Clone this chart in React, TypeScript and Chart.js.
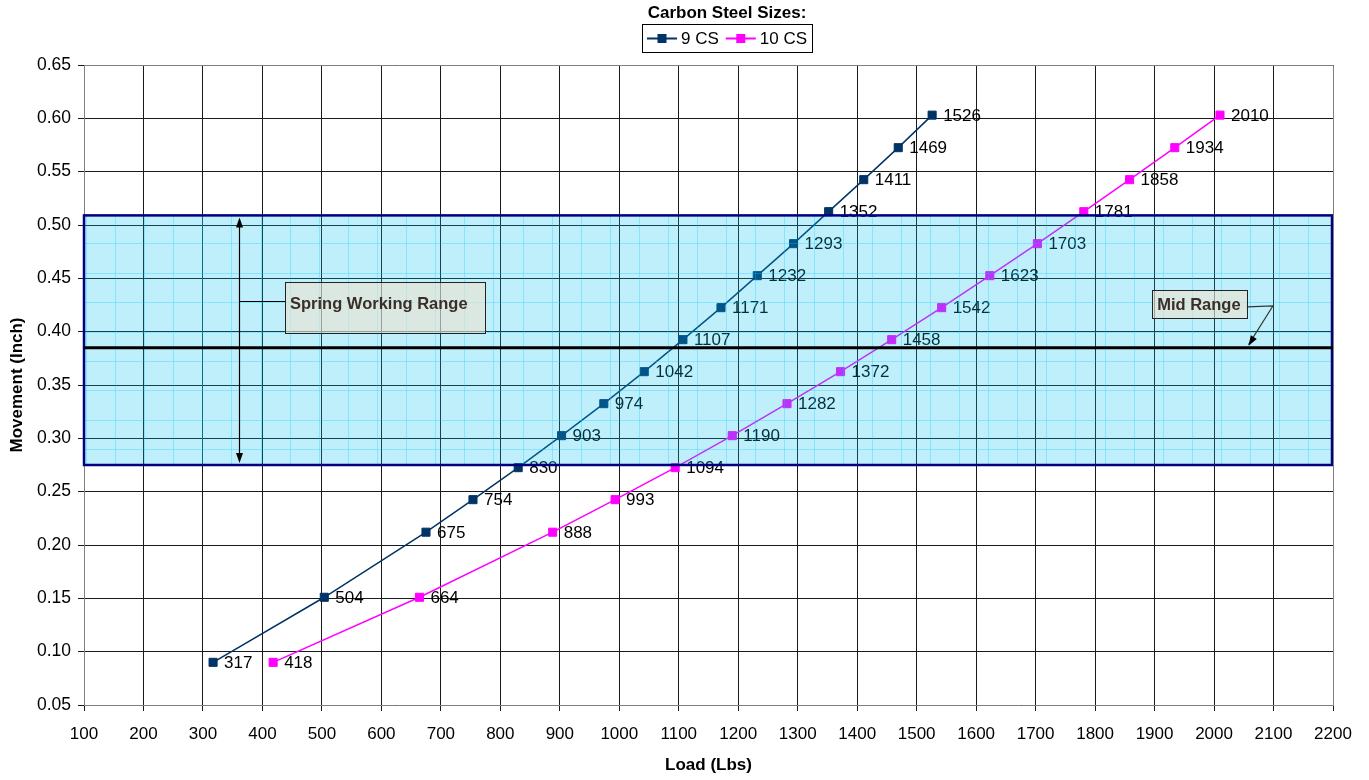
import React, { useEffect, useRef } from 'react';
import { Chart, registerables } from 'chart.js';

Chart.register(...registerables);

// Load (lbs) at each movement step for the two spring sizes
const loads9CS = [317, 504, 675, 754, 830, 903, 974, 1042, 1107, 1171, 1232, 1293, 1352, 1411, 1469, 1526];
const loads10CS = [418, 664, 888, 993, 1094, 1190, 1282, 1372, 1458, 1542, 1623, 1703, 1781, 1858, 1934, 2010];
// Movement (inch) shared by both series
const movement = [0.09, 0.151, 0.212, 0.2425, 0.2725, 0.3025, 0.3325, 0.3625, 0.3925, 0.4225, 0.4525, 0.4825, 0.5125, 0.5425, 0.5725, 0.603];

const seriesNames = ['9 CS', '10 CS'];
const seriesColors = ['#003366', '#ff00ff'];
const legendTitle = 'Carbon Steel Sizes:';
const xTitle = 'Load (Lbs)';
const yTitle = 'Movement (Inch)';

// Spring working range band and its midpoint
const rangeLow = 0.275;
const rangeHigh = 0.509;
const midRange = 0.385;
const workingLabel = 'Spring Working Range';
const midLabel = 'Mid Range';

const FONT = '"Liberation Sans", Arial, Helvetica, sans-serif';

function arrowHead(ctx: CanvasRenderingContext2D, fx: number, fy: number, tx: number, ty: number, len = 10, half = 3.5) {
  const a = Math.atan2(ty - fy, tx - fx);
  ctx.beginPath();
  ctx.moveTo(tx, ty);
  ctx.lineTo(tx - len * Math.cos(a) + half * Math.sin(a), ty - len * Math.sin(a) - half * Math.cos(a));
  ctx.lineTo(tx - len * Math.cos(a) - half * Math.sin(a), ty - len * Math.sin(a) + half * Math.cos(a));
  ctx.closePath();
  ctx.fill();
}

const decorPlugin = {
  id: 'springDecor',
  afterDatasetsDraw(chart: any) {
    const { ctx, chartArea: ca } = chart;
    const xs = chart.scales.x;
    const ys = chart.scales.y;

    // value labels beside each point
    ctx.save();
    ctx.font = `17px ${FONT}`;
    ctx.fillStyle = '#000';
    ctx.textAlign = 'left';
    ctx.textBaseline = 'middle';
    chart.data.datasets.forEach((ds: any, di: number) => {
      const meta = chart.getDatasetMeta(di);
      meta.data.forEach((pt: any, i: number) => {
        ctx.fillText(String(ds.data[i].x), pt.x + 11, pt.y + 1);
      });
    });
    ctx.restore();

    // translucent working range band
    const top = ys.getPixelForValue(rangeHigh);
    const bot = ys.getPixelForValue(rangeLow);
    ctx.save();
    ctx.fillStyle = 'rgba(0,190,240,0.25)';
    ctx.fillRect(ca.left, top, ca.right - ca.left, bot - top);
    ctx.beginPath();
    ctx.rect(ca.left, top, ca.right - ca.left, bot - top);
    ctx.clip();
    ctx.strokeStyle = 'rgba(0,205,255,0.3)';
    ctx.lineWidth = 1;
    ctx.beginPath();
    for (let px = ca.left + 2; px < ca.right; px += 29.1) {
      const p = Math.round(px) + 0.5;
      ctx.moveTo(p, top);
      ctx.lineTo(p, bot);
    }
    for (let py = top + 28; py < bot; py += 29.4) {
      const p = Math.round(py) + 0.5;
      ctx.moveTo(ca.left, p);
      ctx.lineTo(ca.right, p);
    }
    ctx.stroke();
    ctx.restore();

    ctx.save();
    ctx.strokeStyle = '#000080';
    ctx.lineWidth = 2.5;
    ctx.strokeRect(ca.left, top, ca.right - ca.left - 1, bot - top);

    // mid range line
    const my = ys.getPixelForValue(midRange);
    ctx.strokeStyle = '#000';
    ctx.lineWidth = 3;
    ctx.beginPath();
    ctx.moveTo(ca.left, my);
    ctx.lineTo(ca.right, my);
    ctx.stroke();

    // double-headed arrow spanning the working range
    const ax = Math.round(xs.getPixelForValue(360)) + 0.5;
    ctx.lineWidth = 1.2;
    ctx.fillStyle = '#000';
    ctx.beginPath();
    ctx.moveTo(ax, top + 6);
    ctx.lineTo(ax, bot - 6);
    ctx.stroke();
    arrowHead(ctx, ax, bot, ax, top + 2);
    arrowHead(ctx, ax, top, ax, bot - 2);

    // "Spring Working Range" callout
    const bx1 = xs.getPixelForValue(438);
    const bx2 = xs.getPixelForValue(774);
    const by1 = ys.getPixelForValue(0.4466);
    const by2 = ys.getPixelForValue(0.3987);
    const ly = Math.round(ys.getPixelForValue(0.4288)) + 0.5;
    ctx.lineWidth = 1;
    ctx.beginPath();
    ctx.moveTo(ax, ly);
    ctx.lineTo(bx1, ly);
    ctx.stroke();
    ctx.fillStyle = 'rgba(236,226,208,0.6)';
    ctx.fillRect(bx1, by1, bx2 - bx1, by2 - by1);
    ctx.strokeStyle = '#222';
    ctx.strokeRect(Math.round(bx1) + 0.5, Math.round(by1) + 0.5, Math.round(bx2 - bx1), Math.round(by2 - by1));
    ctx.fillStyle = '#3a2e28';
    ctx.font = `bold 16.5px ${FONT}`;
    ctx.textAlign = 'left';
    ctx.textBaseline = 'middle';
    ctx.fillText(workingLabel, bx1 + 5, ly + 3);

    // "Mid Range" callout
    const mx1 = xs.getPixelForValue(1896);
    const mx2 = xs.getPixelForValue(2055);
    const my1 = ys.getPixelForValue(0.439);
    const my2 = ys.getPixelForValue(0.4128);
    ctx.fillStyle = 'rgba(236,226,208,0.6)';
    ctx.fillRect(mx1, my1, mx2 - mx1, my2 - my1);
    ctx.strokeStyle = '#222';
    ctx.strokeRect(Math.round(mx1) + 0.5, Math.round(my1) + 0.5, Math.round(mx2 - mx1), Math.round(my2 - my1));
    ctx.fillStyle = '#3a2e28';
    ctx.fillText(midLabel, mx1 + 5, (my1 + my2) / 2 + 1);
    const kx = xs.getPixelForValue(2099);
    const ky = ys.getPixelForValue(0.4241);
    const tx = xs.getPixelForValue(2058);
    ctx.strokeStyle = '#333';
    ctx.lineWidth = 1.2;
    ctx.beginPath();
    ctx.moveTo(mx2, ys.getPixelForValue(0.4232));
    ctx.lineTo(kx, ky);
    ctx.lineTo(tx, my - 3);
    ctx.stroke();
    ctx.fillStyle = '#000';
    arrowHead(ctx, kx, ky, tx, my - 2);
    ctx.restore();
  },
  afterDraw(chart: any) {
    const { ctx, chartArea: ca } = chart;
    ctx.save();
    // plot frame
    ctx.strokeStyle = '#808080';
    ctx.lineWidth = 1;
    ctx.beginPath();
    ctx.moveTo(ca.left + 0.5, Math.round(ca.top) + 0.5);
    ctx.lineTo(Math.round(ca.right) + 0.5, Math.round(ca.top) + 0.5);
    ctx.lineTo(Math.round(ca.right) + 0.5, ca.bottom);
    ctx.stroke();

    // legend with title and framed entries
    const cx = 727;
    ctx.fillStyle = '#000';
    ctx.font = `bold 17px ${FONT}`;
    ctx.textAlign = 'center';
    ctx.textBaseline = 'middle';
    ctx.fillText(legendTitle, cx, 13);
    ctx.font = `17px ${FONT}`;
    const sw = 30;
    const widths = seriesNames.map((n) => ctx.measureText(n).width);
    const total = 5 + widths.reduce((s, w, i) => s + sw + 4 + w + (i < widths.length - 1 ? 7 : 5), 0);
    const left = Math.round(cx - total / 2);
    const top = 24;
    const h = 28;
    ctx.strokeStyle = '#000';
    ctx.lineWidth = 1;
    ctx.strokeRect(left + 0.5, top + 0.5, Math.round(total), h);
    let x = left + 5;
    const yc = top + h / 2 + 0.5;
    ctx.textAlign = 'left';
    seriesNames.forEach((n, i) => {
      ctx.strokeStyle = seriesColors[i];
      ctx.fillStyle = seriesColors[i];
      ctx.lineWidth = 2;
      ctx.beginPath();
      ctx.moveTo(x, yc);
      ctx.lineTo(x + sw, yc);
      ctx.stroke();
      ctx.fillRect(x + sw / 2 - 4.5, yc - 4.5, 9, 9);
      x += sw + 4;
      ctx.fillStyle = '#000';
      ctx.fillText(n, x, yc + 1);
      x += widths[i] + 7;
    });
    ctx.restore();
  },
};

export default function App() {
  const ref = useRef<HTMLCanvasElement | null>(null);

  useEffect(() => {
    if (!ref.current) return;
    const mk = (loads: number[]) => loads.map((l, i) => ({ x: l, y: movement[i] }));
    const chart = new Chart(ref.current, {
      type: 'line',
      data: {
        datasets: [loads9CS, loads10CS].map((loads, i) => ({
          label: seriesNames[i],
          data: mk(loads),
          borderColor: seriesColors[i],
          backgroundColor: seriesColors[i],
          borderWidth: 1.5,
          pointStyle: 'rect',
          pointRadius: 5.7,
          pointBorderWidth: 1,
          pointBorderColor: seriesColors[i],
          pointBackgroundColor: seriesColors[i],
          tension: 0,
          fill: false,
        })),
      },
      options: {
        responsive: false,
        animation: false,
        devicePixelRatio: 1,
        parsing: false,
        layout: { padding: { top: 65, right: 36, left: 0, bottom: 0 } },
        plugins: { legend: { display: false }, tooltip: { enabled: false }, title: { display: false } },
        scales: {
          x: {
            type: 'linear',
            min: 100,
            max: 2200,
            ticks: {
              stepSize: 100,
              autoSkip: false,
              maxRotation: 0,
              color: '#000',
              padding: 13,
              font: { family: FONT, size: 17 },
              callback: (v: any) => String(Math.round(Number(v))),
            },
            grid: { color: '#1a1a1a', lineWidth: 1, tickLength: 6, tickColor: '#1a1a1a' },
            border: { color: '#808080' },
            title: {
              display: true,
              text: xTitle,
              color: '#000',
              font: { family: FONT, size: 17, weight: 'bold' },
              padding: { top: 0, bottom: 4 },
            },
            afterFit: (s: any) => { s.height = 75; },
          },
          y: {
            type: 'linear',
            min: 0.05,
            max: 0.65,
            ticks: {
              stepSize: 0.05,
              color: '#000',
              padding: 7,
              font: { family: FONT, size: 17.5 },
              callback: (v: any) => Number(v).toFixed(2),
            },
            grid: { color: '#1a1a1a', lineWidth: 1, tickLength: 6, tickColor: '#1a1a1a' },
            border: { color: '#808080' },
            title: {
              display: true,
              text: yTitle,
              color: '#000',
              font: { family: FONT, size: 17, weight: 'bold' },
              padding: { top: 7, bottom: 0 },
            },
            afterFit: (s: any) => { s.width = 84; },
          },
        },
      },
      plugins: [decorPlugin],
    } as any);
    return () => chart.destroy();
  }, []);

  return (
    <div style={{ position: 'absolute', left: 0, top: 0, width: 1369, height: 780, background: '#fff' }}>
      <canvas ref={ref} width={1369} height={780} style={{ display: 'block', width: 1369, height: 780 }} />
    </div>
  );
}
